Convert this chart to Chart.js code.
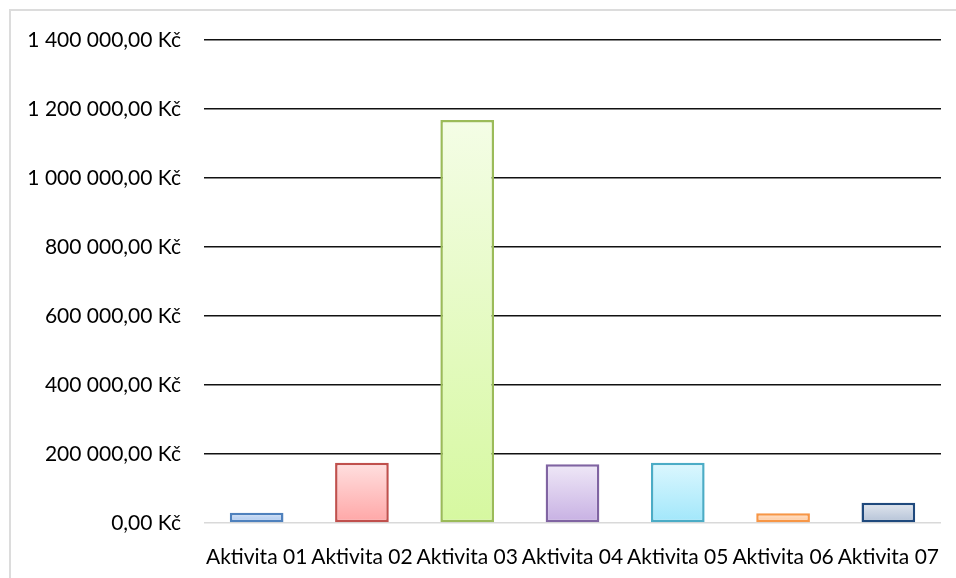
<!DOCTYPE html>
<html>
<head>
<meta charset="utf-8">
<script src="https://cdn.jsdelivr.net/npm/chart.js@4"></script>
<style>
  html, body { margin: 0; padding: 0; background: #fff; overflow: hidden; }
  #frame { position: absolute; left: 9px; top: 9px; width: 960px; height: 580px;
    border: 2px solid #dcdcdc; box-sizing: border-box; }
  #wrap { position: absolute; left: 0; top: 0; width: 956px; height: 578px; }
</style>
</head>
<body>
<div id="frame"></div>
<div id="wrap"><canvas id="c"></canvas></div>
<script>
// Costs per activity (Kč).
const categories = ["Aktivita 01", "Aktivita 02", "Aktivita 03", "Aktivita 04", "Aktivita 05", "Aktivita 06", "Aktivita 07"];
const costs = [30000, 175000, 1168000, 170000, 175000, 28000, 59000];
const yTicks = [0, 200000, 400000, 600000, 800000, 1000000, 1200000, 1400000];

// Office-style theme colours: border, gradient top, gradient bottom.
const borders = ["#4f81bd", "#c0504d", "#9bbb59", "#8064a2", "#4bacc6", "#f79646", "#1f497d"];
const fillTop = ["#d3e2f6", "#ffe0e0", "#f4fde6", "#efe8f7", "#dcf7fe", "#ffe4cf", "#e2e7ef"];
const fillBot = ["#a9c6ef", "#ffa6a6", "#d6f8a0", "#c7b0e3", "#a1e7fb", "#ffc392", "#b3c1d6"];

const fmt = (v) => {
  const s = Math.round(v).toString().replace(/\B(?=(\d{3})+(?!\d))/g, " ");
  return s + ",00 Kč";
};

function barFill(ctx) {
  const chart = ctx.chart, i = ctx.dataIndex;
  const y = chart.scales.y;
  if (!chart.chartArea || !y) return fillBot[i];
  const top = y.getPixelForValue(costs[i]);
  const bot = y.getPixelForValue(0);
  if (!isFinite(top) || !isFinite(bot) || bot - top < 1) return fillBot[i];
  const g = chart.ctx.createLinearGradient(0, top, 0, bot);
  g.addColorStop(0, fillTop[i]);
  g.addColorStop(1, fillBot[i]);
  return g;
}

Chart.defaults.font.family = "Lato, 'Open Sans', sans-serif";
Chart.defaults.color = "#000";

new Chart(document.getElementById("c"), {
  type: "bar",
  data: {
    labels: categories,
    datasets: [{
      data: costs,
      backgroundColor: barFill,
      borderColor: borders,
      borderWidth: 2.5,
      borderSkipped: false,
      categoryPercentage: 1,
      barPercentage: 0.51,
    }],
  },
  options: {
    responsive: true, maintainAspectRatio: false, animation: false,
    layout: { padding: { top: 40, right: 15, left: 0, bottom: 0 } },
    plugins: { legend: { display: false }, tooltip: { enabled: false } },
    scales: {
      x: {
        grid: { display: false },
        border: { display: false },
        ticks: { autoSkip: false, maxRotation: 0, padding: 14, font: { size: 21 } },
        afterFit(s) { s.height = 55; },
      },
      y: {
        min: 0, max: 1400000,
        afterBuildTicks(s) { s.ticks = yTicks.map((v) => ({ value: v })); },
        grid: {
          drawTicks: false,
          color: (c) => (c.tick && c.tick.value === 0 ? "#d9d9d9" : "#111"),
          lineWidth: (c) => (c.tick && c.tick.value === 0 ? 1.5 : 1.6),
        },
        border: { display: false },
        ticks: { padding: 23, font: { size: 21 }, callback: (v) => fmt(v) },
        afterFit(s) { s.width = 204; },
      },
    },
  },
});
</script>
</body>
</html>
